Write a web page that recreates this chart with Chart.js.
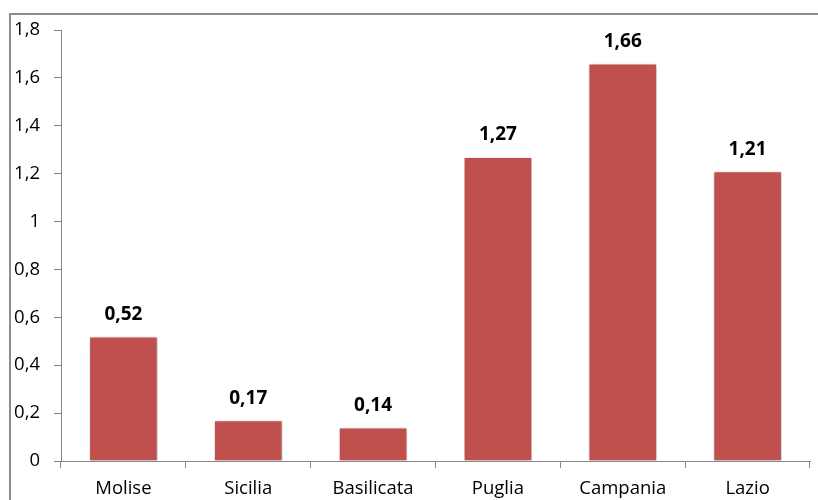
<!DOCTYPE html>
<html>
<head>
<meta charset="utf-8">
<script src="https://cdn.jsdelivr.net/npm/chart.js@4.4.0/dist/chart.umd.min.js"></script>
<style>
  html, body { margin: 0; padding: 0; background: #fff; }
  #wrap { width: 818px; height: 500px; position: relative; }
</style>
</head>
<body>
<div id="wrap"><canvas id="chart" width="818" height="500"></canvas></div>
<script>
// regions and values
const regions = ['Molise', 'Sicilia', 'Basilicata', 'Puglia', 'Campania', 'Lazio'];
const values = [0.52, 0.17, 0.14, 1.27, 1.66, 1.21];
const yTicks = [0, 0.2, 0.4, 0.6, 0.8, 1, 1.2, 1.4, 1.6, 1.8];

const fmt = v => String(v).replace('.', ',');
const fmt2 = v => v.toFixed(2).replace('.', ',');
const axisGrey = '#868686';
const fontFamily = '"Open Sans", sans-serif';

// frame of the chart (excel style box, cut off at right and bottom)
const framePlugin = {
    id: 'frame',
    beforeDraw(chart) {
        const ctx = chart.ctx;
        ctx.save();
        ctx.strokeStyle = '#8c8c8c';
        ctx.lineWidth = 2;
        ctx.strokeRect(10, 14, 1000, 1000);
        ctx.restore();
    }
};

// soft shadow round the bars
const shadowPlugin = {
    id: 'barShadow',
    beforeDatasetDraw(chart) {
        const ctx = chart.ctx;
        ctx.save();
        ctx.shadowColor = 'rgba(0,0,0,0.28)';
        ctx.shadowBlur = 4;
        ctx.shadowOffsetX = 1;
        ctx.shadowOffsetY = 1;
    },
    afterDatasetDraw(chart) {
        chart.ctx.restore();
    }
};

// bold value labels above bars
const valueLabels = {
    id: 'valueLabels',
    afterDatasetsDraw(chart) {
        const ctx = chart.ctx;
        const meta = chart.getDatasetMeta(0);
        ctx.save();
        ctx.font = 'bold 19px ' + fontFamily;
        ctx.fillStyle = '#000';
        ctx.textAlign = 'center';
        ctx.textBaseline = 'middle';
        meta.data.forEach((bar, i) => {
            ctx.fillText(fmt2(values[i]), bar.x, bar.y - 22);
        });
        ctx.restore();
    }
};

new Chart(document.getElementById('chart').getContext('2d'), {
    type: 'bar',
    data: {
        labels: regions,
        datasets: [{
            data: values,
            backgroundColor: '#C0504D',
            borderColor: 'rgba(255,255,255,0.6)',
            borderWidth: 1,
            barPercentage: 0.55,
            categoryPercentage: 1
        }]
    },
    options: {
        responsive: false,
        animation: false,
        layout: { padding: { left: 0, top: 30, right: 8, bottom: 0 } },
        plugins: { legend: { display: false }, tooltip: { enabled: false } },
        scales: {
            x: {
                grid: {
                    offset: true,
                    drawOnChartArea: false,
                    drawTicks: true,
                    tickLength: 7,
                    color: axisGrey
                },
                border: { color: axisGrey, width: 1 },
                ticks: {
                    color: '#000',
                    font: { family: fontFamily, size: 18.5 },
                    padding: 10,
                    maxRotation: 0
                },
                afterFit(scale) { scale.height = 39; }
            },
            y: {
                min: 0,
                max: 1.8,
                afterBuildTicks(scale) {
                    scale.ticks = yTicks.map(v => ({ value: v }));
                },
                grid: {
                    drawOnChartArea: false,
                    drawTicks: true,
                    tickLength: 7,
                    color: axisGrey
                },
                border: { color: axisGrey, width: 1 },
                ticks: {
                    color: '#000',
                    font: { family: fontFamily, size: 18.5 },
                    padding: 14,
                    callback: v => fmt(v)
                },
                afterFit(scale) { scale.width = 61; }
            }
        }
    },
    plugins: [framePlugin, shadowPlugin, valueLabels]
});
</script>
</body>
</html>
